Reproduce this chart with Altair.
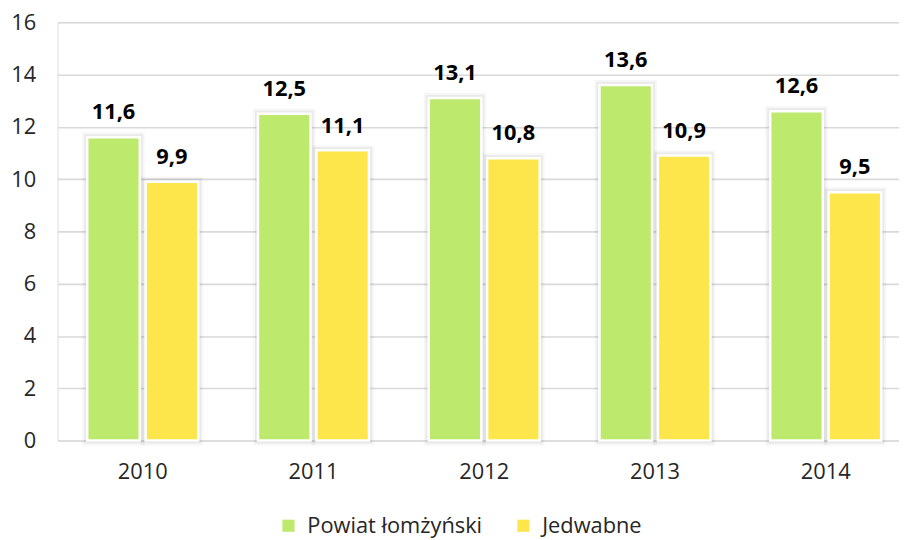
import altair as alt
import pandas as pd

years = ["2010", "2011", "2012", "2013", "2014"]
series = ["Powiat łomżyński", "Jedwabne"]
powiat = [11.6, 12.5, 13.1, 13.6, 12.6]
jedwabne = [9.9, 11.1, 10.8, 10.9, 9.5]
colors = ["#bde96c", "#fde64b"]
y_ticks = [0, 2, 4, 6, 8, 10, 12, 14, 16]

rows = []
for i, yr in enumerate(years):
    for s, vals in zip(series, [powiat, jedwabne]):
        v = vals[i]
        rows.append({"year": yr, "series": s, "value": v,
                     "label": f"{v:.1f}".replace(".", ",")})
df = pd.DataFrame(rows)

FONT = "Open Sans"

x_enc = alt.X("year:N", sort=years,
              scale=alt.Scale(paddingInner=0.35, paddingOuter=0.139, align=0.625),
              axis=alt.Axis(title=None, labelAngle=0, domain=False, ticks=False, tickSize=0,
                            labelPadding=21, labelFontSize=22, labelFont=FONT,
                            labelColor="#262626", grid=False))
xo_enc = alt.XOffset("series:N", sort=series,
                     scale=alt.Scale(paddingInner=0.1, paddingOuter=0))
y_enc = alt.Y("value:Q",
              scale=alt.Scale(domain=[0, 16], nice=False),
              axis=alt.Axis(title=None, values=y_ticks, domain=False, ticks=False, tickSize=0,
                            labelPadding=22, labelFontSize=22, labelFont=FONT,
                            labelColor="#262626", grid=True, gridColor="#d9d9d9",
                            gridWidth=1.6))
color_enc = alt.Color("series:N", sort=series,
                      scale=alt.Scale(domain=series, range=colors),
                      legend=alt.Legend(title=None, orient="none", direction="horizontal",
                                        legendX=222, legendY=497,
                                        symbolType="square", symbolSize=150,
                                        symbolStrokeWidth=0, symbolOpacity=1,
                                        labelFontSize=22, labelFont=FONT, labelLimit=400,
                                        labelColor="#262626", labelOffset=8,
                                        columnPadding=30))

base = alt.Chart(df)

shadow1 = base.mark_bar(fill="#000000", fillOpacity=0.0, stroke="#000000",
                        strokeOpacity=0.035, strokeWidth=10).encode(
    x=x_enc, xOffset=xo_enc, y=y_enc)
shadow2 = base.mark_bar(fill="#000000", fillOpacity=0.0, stroke="#000000",
                        strokeOpacity=0.05, strokeWidth=6).encode(
    x=x_enc, xOffset=xo_enc, y=y_enc)
bars = base.mark_bar(stroke="white", strokeWidth=2.5, opacity=1).encode(
    x=x_enc, xOffset=xo_enc, y=y_enc, color=color_enc)
labels = base.mark_text(fontSize=22, fontWeight="bold", font=FONT, color="#000000",
                        baseline="alphabetic", dy=-18).encode(
    x=x_enc, xOffset=xo_enc, y=y_enc, text="label:N")

chart = alt.layer(shadow1, shadow2, bars, labels).properties(
    width=849, height=422,
    autosize=alt.AutoSizeParams(type="none"),
    padding={"left": 50, "top": 12, "right": 0, "bottom": 98},
).configure_view(stroke=None).configure(background="white")

chart.save("out.html", embed_options={"renderer": "svg", "actions": False})
